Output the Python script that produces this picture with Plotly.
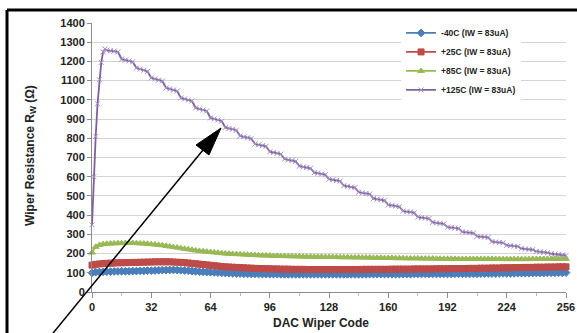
import plotly.graph_objects as go

codes = list(range(0, 257, 2))
purple_codes = [0, 1, 2, 3, 4, 5, 6, 7] + list(range(8, 257, 2))

names = ["-40C (IW = 83uA)", "+25C (IW = 83uA)", "+85C (IW = 83uA)", "+125C (IW = 83uA)"]

minus40 = [100, 103, 104, 105, 106, 106, 107, 107, 108, 108, 108,
           109, 109, 110, 110, 111, 111, 112, 113, 114, 114, 115, 115, 114, 113,
           112, 111, 109, 108, 106, 105, 104, 103, 102, 101, 100, 99, 98, 97, 96, 96,
           95, 95, 94, 94, 94, 93, 93, 93, 93, 93, 92, 92, 92, 92, 92, 92, 92, 92, 92, 92, 92, 92, 92, 92,
           92, 92, 92, 92, 92, 92, 92, 92, 92, 92, 93, 93, 93, 93, 93, 93, 93, 93, 93, 93, 93, 93,
           94, 94, 94, 94, 94, 94, 94, 94, 94, 94, 94, 95, 95, 95,
           95, 95, 95, 95, 96, 96, 96, 96, 96, 97, 97, 97, 97, 97, 98, 98, 98, 98, 99, 99, 99, 99,
           100, 100, 100, 100, 100, 101]

plus25 = [140, 144, 146, 148, 149, 150, 151, 152, 152, 153, 153,
          154, 154, 155, 155, 156, 156, 157, 157, 157, 157, 157, 156, 155, 154,
          153, 151, 149, 147, 145, 143, 141, 139, 137, 135, 133, 131, 130, 129, 128, 127,
          126, 125, 124, 123, 122, 122, 121, 121, 120, 120, 119, 119, 119, 118, 118, 118, 118, 117, 117, 117,
          117, 117, 117, 117,
          117, 117, 117, 117, 117, 117, 117, 117, 118, 118, 118, 118, 118, 118, 118, 118,
          119, 119, 119, 119, 119, 119, 120, 120, 120, 120, 120, 120, 121, 121, 121, 121,
          122, 122, 122, 122,
          122, 123, 123, 123, 124, 124, 124, 125, 125, 125, 126, 126, 126, 127, 127, 127, 128, 128, 128,
          129, 129, 129, 130, 130, 130, 131, 131, 131]

plus85 = [205, 235, 245, 249, 251, 252, 253, 254, 254, 255, 255,
          255, 254, 253, 252, 251, 249, 247, 245, 243, 240, 237, 234, 231, 228,
          225, 222, 219, 216, 214, 212, 210, 208, 206, 204, 202, 200, 199, 198, 197, 196,
          195, 194, 193, 192, 191, 190, 190, 189, 188, 188, 187, 187, 186, 186, 185, 185, 184, 184, 184, 183,
          183, 183, 182, 182,
          182, 182, 181, 181, 181, 180, 180, 180, 179, 179, 179, 178, 178, 178, 177, 177, 177, 176,
          176, 176, 175, 175, 175, 175, 174, 174, 174, 174, 173, 173, 173, 173, 173, 172, 172, 172,
          172, 172, 172, 172, 172, 172, 172, 172, 172, 172, 171, 171, 171, 171, 171, 171, 171, 171,
          172, 172, 172, 172, 172, 172, 172, 172, 172, 172]

plus125 = [350, 600, 810, 980, 1105, 1195, 1250, 1265,
           1258, 1256, 1254, 1250,
           1212, 1207, 1203, 1198,
           1166, 1160, 1154, 1148,
           1114, 1109, 1103, 1098,
           1062, 1057, 1051, 1046,
           1010, 1005, 999, 994,
           958, 953, 947, 942,
           906, 901, 895, 890,
           856, 851, 847, 842,
           812, 808, 803, 799,
           770, 766, 762, 758,
           730, 726, 722, 718,
           692, 688, 684, 680,
           655, 651, 648, 644,
           621, 618, 614, 611,
           587, 584, 580, 577,
           553, 550, 546, 543,
           519, 516, 513, 510,
           486, 483, 480, 477,
           453, 450, 447, 444,
           421, 418, 416, 413,
           390, 387, 385, 382,
           362, 359, 357, 355,
           337, 335, 333, 331,
           313, 311, 309, 307,
           290, 288, 286, 284,
           262, 260, 258, 256,
           243, 241, 239, 237,
           226, 224, 222, 220,
           211, 209, 207, 205,
           199, 197, 195, 193,
           190]

x_ticks = [0, 32, 64, 96, 128, 160, 192, 224, 256]

colors = ["#4a7ebb", "#be4b48", "#98b954", "#7d60a0"]
marker_colors = ["#4a7ebb", "#be4b48", "#98b954", "#a591c4"]
symbols = ["diamond", "square", "triangle-up", "x-thin"]
sizes = [6, 6, 6, 5]

series = [(codes, minus40), (codes, plus25), (codes, plus85), (purple_codes, plus125)]

fig = go.Figure()
for i, (xs, ys) in enumerate(series):
    fig.add_trace(go.Scatter(
        x=xs, y=ys, name=names[i], mode="lines+markers",
        line=dict(color=colors[i], width=1.8),
        marker=dict(symbol=symbols[i], size=sizes[i], color=marker_colors[i],
                    line=dict(color=marker_colors[i], width=1)),
        cliponaxis=False,
    ))

axis_font = dict(family="Liberation Sans, Arial, sans-serif", size=11, color="#222222", weight="bold")

fig.update_layout(
    width=577, height=333,
    margin=dict(l=92, r=11, t=23, b=41, autoexpand=False),
    paper_bgcolor="white", plot_bgcolor="white",
    showlegend=True,
    legend=dict(
        x=0.652, y=1.017, xanchor="left", yanchor="top",
        bgcolor="white", borderwidth=0,
        font=dict(family="Liberation Sans, Arial, sans-serif", size=8.5, color="#222222", weight="bold"),
        itemwidth=30, tracegroupgap=0,
    ),
    xaxis=dict(
        range=[0, 256], tickvals=x_ticks, ticktext=[str(v) for v in x_ticks],
        showgrid=False, zeroline=False, automargin=False,
        showline=True, linecolor="#8c8c8c", linewidth=1,
        ticks="outside", ticklen=5, tickcolor="#8c8c8c",
        minor=dict(dtick=16, tick0=0, ticks="outside", ticklen=3, tickcolor="#bbbbbb", showgrid=False),
        tickfont=axis_font,
    ),
    yaxis=dict(
        range=[0, 1400], dtick=100, tick0=0,
        showgrid=True, gridcolor="#d4d4d4", gridwidth=1.2,
        zeroline=False, automargin=False,
        showline=True, linecolor="#8c8c8c", linewidth=1,
        ticks="outside", ticklen=4, tickcolor="#8c8c8c",
        tickfont=axis_font,
    ),
    annotations=[
        dict(text="Wiper Resistance R<sub>W</sub> (Ω)", xref="paper", yref="paper",
             x=-0.129, y=0.509, xanchor="center", yanchor="middle", textangle=-90,
             showarrow=False,
             font=dict(family="Liberation Sans, Arial, sans-serif", size=12, color="#222222", weight="bold")),
        dict(text="DAC Wiper Code", xref="paper", yref="paper",
             x=0.483, y=-0.115, xanchor="center", yanchor="middle",
             showarrow=False,
             font=dict(family="Liberation Sans, Arial, sans-serif", size=12, color="#222222", weight="bold")),
    ],
    shapes=[
        dict(type="line", xref="paper", yref="paper", x0=-0.1793, y0=1.048, x1=1.05, y1=1.048,
             line=dict(color="black", width=3)),
        dict(type="line", xref="paper", yref="paper", x0=-0.1793, y0=1.048, x1=-0.1793, y1=-0.2,
             line=dict(color="black", width=3)),
        dict(type="line", xref="paper", yref="paper", x0=-0.1097, y0=-0.2119, x1=0.2342, y1=0.5279,
             line=dict(color="black", width=1.5)),
        dict(type="path", xref="paper", yref="paper",
             path="M 0.2722 0.6097 L 0.2194 0.5465 L 0.2468 0.5093 Z",
             fillcolor="black", line=dict(color="black", width=1)),
    ],
)

fig.write_html("out.html", config={"displayModeBar": False},
               post_script="document.body.style.margin='0';")
